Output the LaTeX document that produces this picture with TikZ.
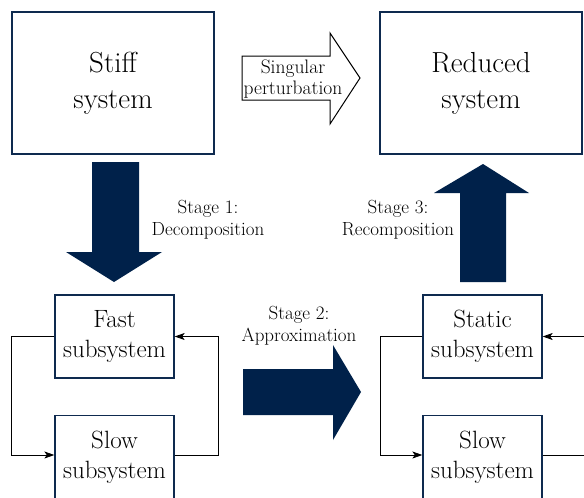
\documentclass[tikz,border=0pt]{standalone}
\usepackage{fontspec}
\usetikzlibrary{arrows.meta,calc}
\definecolor{navyline}{HTML}{0E2A4F}
\definecolor{navyfill}{HTML}{00214A}
\begin{document}
\begin{tikzpicture}[x=1pt,y=-1pt,
  bigbox/.style={draw=navyline, line width=2.2pt, minimum width=202pt, minimum height=142pt, inner sep=0pt, align=center, font=\fontsize{29}{36}\selectfont},
  subbox/.style={draw=navyline, line width=1.3pt, minimum width=119pt, minimum height=83pt, inner sep=0pt, align=center, font=\fontsize{25}{30}\selectfont},
  lbl/.style={align=center, inner sep=0pt, font=\fontsize{19}{22}\selectfont},
  singlbl/.style={align=center, inner sep=0pt, font=\fontsize{19.5}{21}\selectfont},
  link/.style={line width=0.8pt, -{Stealth[length=10pt,width=7pt,inset=2.5pt]}},
  plain/.style={line width=0.8pt},
  bigarrow/.style={fill=navyfill, draw=none},
  openarrow/.style={draw=black, line width=1pt, fill=white, line join=miter}]
\useasboundingbox (0,0) rectangle (584,498);
\clip (0,0) rectangle (584,498);

% main boxes
\node[bigbox] (stiff) at (113,83) {Stiff\\system};
\node[bigbox] (reduced) at (481,83) {Reduced\\system};

% singular perturbation arrow
\draw[openarrow] (242,56) -- (330,56) -- (330,33) -- (360,78) -- (330,124) -- (330,100) -- (242,100) -- cycle;
\node[singlbl] (sing) at (293,79) {Singular\\perturbation};

% stage 1 arrow
\fill[bigarrow] (92,162) -- (139,162) -- (139,252) -- (162,252) -- (114,282) -- (66,252) -- (92,252) -- cycle;
\node[lbl] (st1) at (208,220) {Stage 1:\\Decomposition};

% stage 3 arrow
\fill[bigarrow] (460,282) -- (506,282) -- (506,193) -- (529,193) -- (483,164) -- (434,193) -- (460,193) -- cycle;
\node[lbl] (st3) at (398,220) {Stage 3:\\Recomposition};

% stage 2 arrow
\fill[bigarrow] (243,369) -- (333,369) -- (333,345) -- (361,392) -- (333,440) -- (333,415) -- (243,415) -- cycle;
\node[lbl] (st2) at (299,326) {Stage 2:\\Approximation};

% subsystem boxes
\node[subbox] (fast) at (114.5,336.5) {Fast\\subsystem};
\node[subbox] (slowL) at (114.5,457) {Slow\\subsystem};
\node[subbox] (static) at (482.5,336.5) {Static\\subsystem};
\node[subbox] (slowR) at (482.5,457) {Slow\\subsystem};

% left loop
\draw[link] (fast.west) -- (11,336.5) |- ($(slowL.west)+(0,-2)$);
\draw[link] ($(slowL.east)+(0,-2)$) -- (218,455) |- (fast.east);

% right loop
\draw[link] (static.west) -- (380,336.5) |- ($(slowR.west)+(0,-2)$);
\coordinate (rin) at (584,336.5);
\coordinate (rout) at (584,455);
\draw[link] (rin) -- (static.east);
\draw[plain] ($(slowR.east)+(0,-2)$) -- (rout);
\end{tikzpicture}
\end{document}
